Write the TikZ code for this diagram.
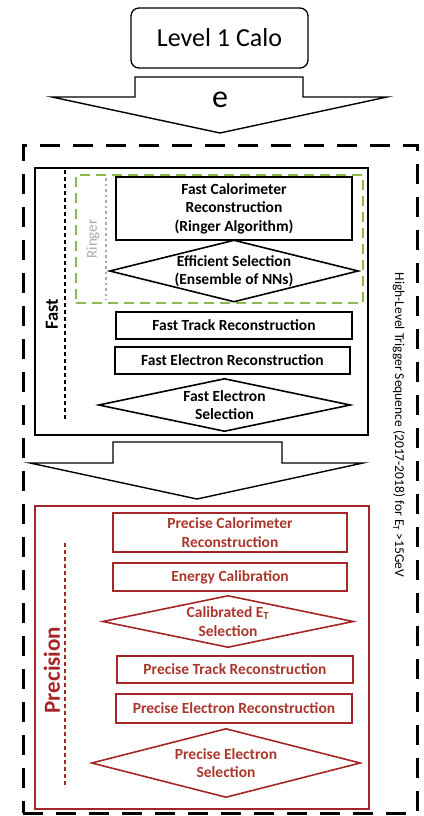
\documentclass[tikz,border=0pt]{standalone}
\usepackage{fontspec}
\setmainfont{Carlito}
\definecolor{hltred}{RGB}{165,38,38}
\definecolor{hlttext}{RGB}{170,55,45}
\definecolor{ringgreen}{RGB}{140,182,80}
\definecolor{ringgray}{RGB}{170,170,170}
\begin{document}
\begin{tikzpicture}[x=1pt,y=-1pt,
  boxfont/.style={font=\fontsize{15.5}{18.5}\selectfont\bfseries},
  stepbox/.style={draw, line width=1.6pt, inner sep=0pt, align=center, boxfont},
  redbox/.style={stepbox, draw=hltred, text=hlttext},
  diabox/.style={inner sep=0pt, align=center, boxfont},
  blockarrow/.style={draw, line width=1.4pt, fill=white, line join=miter},
  container/.style={inner sep=0pt},
]
\useasboundingbox (0,0) rectangle (423,816);

% Level 1 Calo
\node[draw, rounded corners=8pt, line width=1.3pt, minimum width=177pt, minimum height=60pt,
      font=\fontsize{26}{30}\selectfont] (l1) at (219.5,38) {Level 1 Calo};

% outer HLT container
\node[container, draw, line width=3pt, dash pattern=on 20pt off 13pt,
      minimum width=394pt, minimum height=668pt] (hlt) at (220,479) {};
\node[rotate=-90, font=\fontsize{13.5}{16}\selectfont] (hltlabel) at (399,425)
  {High-Level Trigger Sequence (2017-2018) for E\textsubscript{T} >15GeV};

% arrow 1 (Level 1 -> HLT)
\draw[blockarrow] (135,77) -- (303,77) -- (303,97) -- (387,97) -- (220,133) -- (52,97) -- (135,97) -- cycle;
\node[font=\fontsize{32}{36}\selectfont] (e) at (220,100) {e};

% Fast container
\node[container, draw, line width=2.2pt, minimum width=333pt, minimum height=267pt] (fast) at (201.5,301.5) {};
\coordinate (fasttop) at (65,170);
\coordinate (fastbot) at (65,420);
\draw[line width=1.3pt, dash pattern=on 4pt off 3pt] (fasttop) -- (fastbot);
\node[rotate=90, font=\fontsize{18.5}{22}\selectfont\bfseries] (fastlabel) at (52,314) {Fast};

% Ringer region
\node[container, draw=ringgreen, line width=1.5pt, dash pattern=on 10pt off 6pt,
      minimum width=287pt, minimum height=128pt] (ringer) at (219.5,239) {};
\coordinate (ringtop) at (106,178);
\coordinate (ringbot) at (106,300);
\draw[ringgray, line width=2.5pt, dash pattern=on 2.5pt off 3pt] (ringtop) -- (ringbot);
\node[rotate=90, text=ringgray, font=\fontsize{15}{18}\selectfont] (ringlabel) at (93,239) {Ringer};

\node[stepbox, minimum width=236pt, minimum height=63pt] (fcal) at (234,208.5)
  {Fast Calorimeter\\Reconstruction\\(Ringer Algorithm)};
\node[diabox, minimum width=248pt, minimum height=61pt] (effsel) at (234,271)
  {Efficient Selection\\(Ensemble of NNs)};
\draw[line width=1.6pt] (effsel.west) -- (effsel.north) -- (effsel.east) -- (effsel.south) -- cycle;

\node[stepbox, minimum width=236pt, minimum height=27pt] (ftrack) at (234,325.5) {Fast Track Reconstruction};
\node[stepbox, minimum width=235pt, minimum height=27pt] (fele) at (232.5,360.5) {Fast Electron Reconstruction};
\node[diabox, minimum width=251pt, minimum height=52pt] (fesel) at (224.5,405) {Fast Electron\\Selection};
\draw[line width=1.6pt] (fesel.west) -- (fesel.north) -- (fesel.east) -- (fesel.south) -- cycle;

% arrow 2 (Fast -> Precision)
\draw[blockarrow] (113,442) -- (282,442) -- (282,463) -- (363,463) -- (197,499) -- (30,463) -- (113,463) -- cycle;

% Precision container
\node[container, draw=hltred, line width=2.2pt, minimum width=334pt, minimum height=303pt] (prec) at (202,657.5) {};
\coordinate (prectop) at (65,543);
\coordinate (precbot) at (65,788);
\draw[hltred, line width=1.3pt, dash pattern=on 4pt off 3pt] (prectop) -- (precbot);
\node[rotate=90, text=hltred, font=\fontsize{23}{26}\selectfont\bfseries] (preclabel) at (52,670) {Precision};

\node[redbox, minimum width=234pt, minimum height=39pt] (pcal) at (230,532.5) {Precise Calorimeter\\Reconstruction};
\node[redbox, minimum width=234pt, minimum height=28pt] (ecal) at (230,577) {Energy Calibration};
\node[diabox, text=hlttext, minimum width=250pt, minimum height=51pt] (calet) at (228,621.5)
  {Calibrated E\textsubscript{T}\\Selection};
\draw[hltred, line width=1.6pt] (calet.west) -- (calet.north) -- (calet.east) -- (calet.south) -- cycle;
\node[redbox, minimum width=236pt, minimum height=27pt] (ptrack) at (235,669.5) {Precise Track Reconstruction};
\node[redbox, minimum width=236pt, minimum height=29pt] (pele) at (234,708.5) {Precise Electron Reconstruction};
\node[diabox, text=hlttext, minimum width=268pt, minimum height=68pt] (pesel) at (226,763) {Precise Electron\\Selection};
\draw[hltred, line width=1.6pt] (pesel.west) -- (pesel.north) -- (pesel.east) -- (pesel.south) -- cycle;
\end{tikzpicture}
\end{document}
